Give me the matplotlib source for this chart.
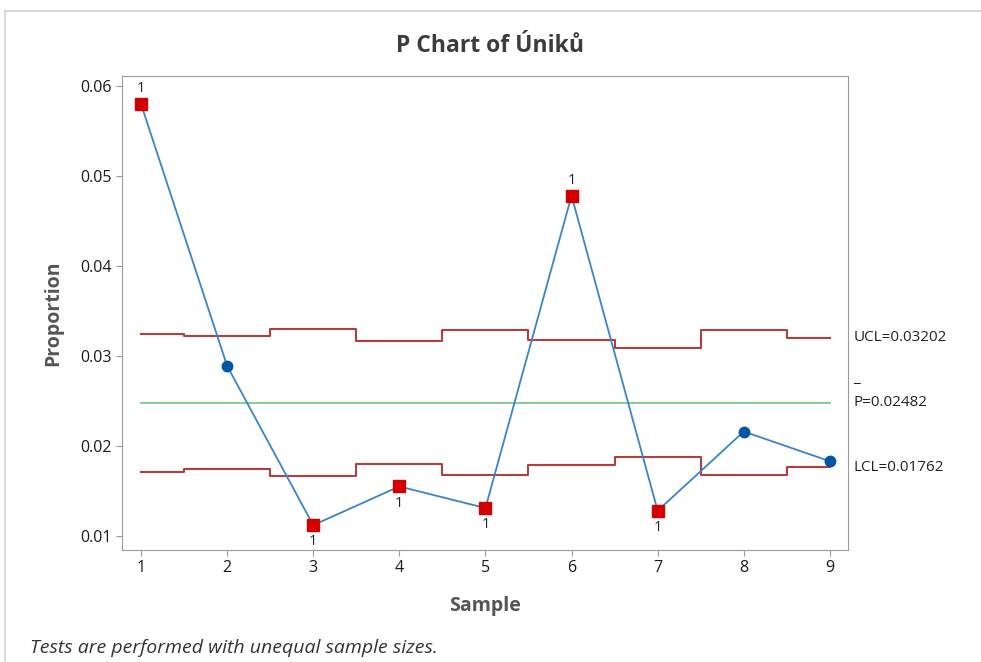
import matplotlib.pyplot as plt
from matplotlib.lines import Line2D

# data
samples = [1, 2, 3, 4, 5, 6, 7, 8, 9]
proportion = [0.0580, 0.0289, 0.0112, 0.0155, 0.0131, 0.0478, 0.0128, 0.0216, 0.0183]
ucl = [0.03249, 0.03217, 0.03294, 0.03168, 0.03285, 0.03179, 0.03091, 0.03285, 0.03202]
lcl = [0.01715, 0.01747, 0.01670, 0.01796, 0.01679, 0.01785, 0.01873, 0.01679, 0.01762]
p_bar = 0.02482
y_ticks = [0.01, 0.02, 0.03, 0.04, 0.05, 0.06]

plt.rcParams['font.family'] = ['Open Sans', 'DejaVu Sans']

fig = plt.figure(figsize=(9.81, 6.62), dpi=100)
ax = fig.add_axes([0.1244, 0.1692, 0.74, 0.716])

# top and left edge of the output pane
fx, fy = 5 / 981, 1 - 11 / 662
fig.add_artist(Line2D([fx, 1], [fy, fy], transform=fig.transFigure, color='#d9d9d9', linewidth=1.5))
fig.add_artist(Line2D([fx, fx], [0, fy], transform=fig.transFigure, color='#d9d9d9', linewidth=1.5))


def step_limits(vals):
    xs, ys = [], []
    for i, v in enumerate(vals):
        x0 = samples[i] - 0.5 if i > 0 else samples[i]
        x1 = samples[i] + 0.5 if i < len(vals) - 1 else samples[i]
        xs += [x0, x1]
        ys += [v, v]
    return xs, ys


xs, ys = step_limits(ucl)
ax.plot(xs, ys, color='#b04040', linewidth=1.5, zorder=2)
xs, ys = step_limits(lcl)
ax.plot(xs, ys, color='#b04040', linewidth=1.5, zorder=2)
ax.plot([samples[0], samples[-1]], [p_bar, p_bar], color='#7fc98a', linewidth=1.3, zorder=2)

ax.plot(samples, proportion, color='#3a84c8', linewidth=1.3, zorder=3)

for s, p, u, l in zip(samples, proportion, ucl, lcl):
    if p > u or p < l:
        ax.plot(s, p, marker='s', markersize=8.5, color='#d40000', zorder=4)
        off = 11 if p > u else -12
        ax.annotate('1', (s, p), xytext=(0, off), textcoords='offset points',
                    ha='center', va='center', fontsize=10.5, color='#222222')
    else:
        ax.plot(s, p, marker='o', markersize=7.5, color='#0055a5', zorder=4)

ax.set_xlim(0.78, 9.21)
ax.set_ylim(0.00844, 0.0611)
ax.set_xticks(samples)
ax.set_yticks(y_ticks)
ax.set_yticklabels([f'{t:.2f}' for t in y_ticks])
ax.tick_params(labelsize=11.5, labelcolor='#1a1a1a', length=4, color='#9a9a9a')
for sp in ax.spines.values():
    sp.set_color('#9a9a9a')

ax.set_xlabel('Sample', fontsize=14, fontweight='bold', color='#555555', labelpad=14)
ax.set_ylabel('Proportion', fontsize=14, fontweight='bold', color='#555555', labelpad=12)

# limit labels at the right
lab_x = 9.27
ax.text(lab_x, ucl[-1], 'UCL=0.03202', fontsize=11, va='center', color='#222222', clip_on=False)
ax.text(lab_x, p_bar, 'P=0.02482', fontsize=11, va='center', color='#222222', clip_on=False)
ax.annotate('_', (lab_x, p_bar), xytext=(0, 12), textcoords='offset points',
            fontsize=11, va='bottom', color='#222222', annotation_clip=False)
ax.text(lab_x, lcl[-1], 'LCL=0.01762', fontsize=11, va='center', color='#222222', clip_on=False)

fig.text(0.5, 1 - 46 / 662, 'P Chart of Úniků', ha='center', va='center',
         fontsize=16.5, fontweight='bold', color='#3c3c3c')
fig.text(30 / 981, 1 - 648 / 662, 'Tests are performed with unequal sample sizes.',
         ha='left', va='center', fontsize=14, style='italic', color='#333333')

fig.savefig('out.png', dpi=100)
